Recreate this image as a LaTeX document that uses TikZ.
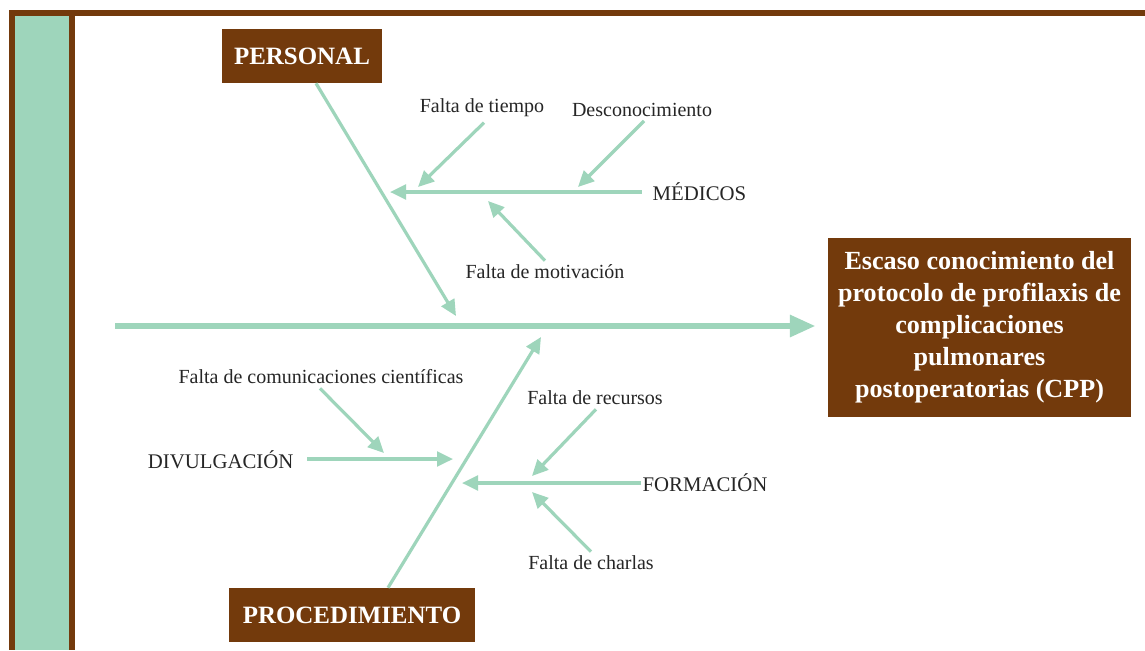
\documentclass[tikz,border=0pt]{standalone}
\usepackage{fontspec}
\setmainfont{Liberation Serif}
\usetikzlibrary{arrows.meta}
\definecolor{brn}{RGB}{115,58,12}
\definecolor{grn}{RGB}{158,213,187}
\begin{document}
\begin{tikzpicture}[x=0.75pt,y=-0.75pt,
  bone/.style={draw=grn, line width=2.4pt, -{Triangle[length=12pt,width=11pt]}},
  spine/.style={draw=grn, line width=3.8pt, -{Triangle[length=19pt,width=16pt]}},
  cat/.style={fill=brn, text=white, font=\bfseries\fontsize{18.7}{21}\selectfont, inner sep=0pt},
  lbl/.style={font=\fontsize{15.6}{18}\selectfont, inner sep=1pt, text=black!85},
  sub/.style={font=\fontsize{15}{17}\selectfont, inner sep=1pt, text=black!85}]
\useasboundingbox (0,0) rectangle (1145,650);
% frame
\fill[brn] (9,10) rectangle (1145,650);
\fill[white] (75,16) rectangle (1145,650);
\fill[grn] (15,16) rectangle (69,650);

% effect box
\node[fill=brn, text=white, font=\bfseries\fontsize{19.6}{24}\selectfont, align=center,
      minimum width=227pt, minimum height=134pt, inner sep=0pt] (effect) at (979.5,327.5)
  {Escaso conocimiento del\\protocolo de profilaxis de\\complicaciones\\pulmonares\\postoperatorias (CPP)};

% category boxes
\node[cat, minimum width=120pt, minimum height=40.5pt] (personal) at (302,56) {PERSONAL};
\node[cat, minimum width=184.5pt, minimum height=40.5pt] (proc) at (352,615) {PROCEDIMIENTO};

% spine
\coordinate (s0) at (115,326);
\draw[spine, shorten >=9.5pt] (s0) -- (s0 -| effect.west);

% main bones
\coordinate (pT) at (456,316);
\coordinate (qT) at (541,337);
\draw[bone] ([xshift=10.5pt]personal.south) -- (pT);
\draw[bone] ([xshift=27pt]proc.north) -- (qT);

% MEDICOS
\node[lbl, anchor=west] (med) at (651,192) {MÉDICOS};
\coordinate (medT) at (390,192);
\draw[bone] ([xshift=-7pt]med.west) -- (medT);
\node[sub] (ft) at (482,108) {Falta de tiempo};
\coordinate (ftT) at (418,187);
\draw[bone] ([xshift=1.5pt,yshift=-3pt]ft.south) -- (ftT);
\node[sub] (des) at (642,110) {Desconocimiento};
\coordinate (desT) at (578,187);
\draw[bone] ([xshift=1.5pt,yshift=-2pt]des.south) -- (desT);
\node[sub] (mot) at (545,272) {Falta de motivación};
\coordinate (motT) at (488,201);
\draw[bone] ([yshift=2pt]mot.north) -- (motT);

% DIVULGACION
\node[lbl, anchor=east] (div) at (295,460) {DIVULGACIÓN};
\coordinate (divT) at (453,459);
\draw[bone] ([xshift=9pt,yshift=0.75pt]div.east) -- (divT);
\node[sub] (com) at (321,377) {Falta de comunicaciones científicas};
\coordinate (comT) at (384,453);
\draw[bone] ([xshift=-0.75pt,yshift=-2pt]com.south) -- (comT);

% FORMACION
\node[lbl, anchor=west] (form) at (641,483) {FORMACIÓN};
\coordinate (formT) at (462,483);
\draw[bone] (form.west) -- (formT);
\node[sub] (rec) at (595,398) {Falta de recursos};
\coordinate (recT) at (532,476);
\draw[bone] ([xshift=0.75pt,yshift=-2pt]rec.south) -- (recT);
\node[sub] (cha) at (591,563) {Falta de charlas};
\coordinate (chaT) at (532,492);
\draw[bone] ([yshift=2pt]cha.north) -- (chaT);
\end{tikzpicture}
\end{document}
